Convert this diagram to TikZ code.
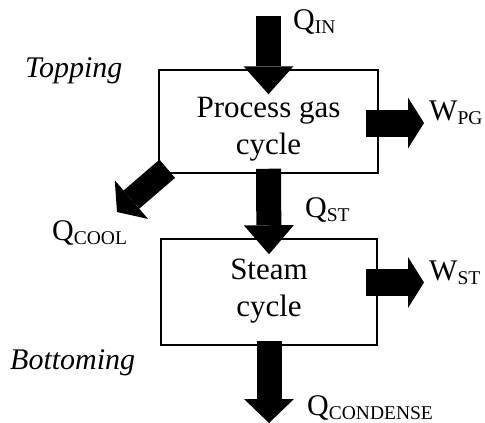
\documentclass[tikz,border=0pt]{standalone}
\usepackage{fontspec}
\setmainfont{Liberation Serif}
\usetikzlibrary{arrows.meta}

\newcommand{\flowlabel}[2]{{\fontsize{30}{30}\selectfont #1}\raisebox{-4pt}{\fontsize{19.5}{19.5}\selectfont #2}}

\begin{document}
\begin{tikzpicture}[x=1pt, y=-1pt,
  cyclebox/.style={draw, line width=1.5pt, inner sep=0pt},
  boxtext/.style={align=center, font=\fontsize{31}{37}\selectfont},
  lbl/.style={anchor=base west, inner sep=0pt},
  sidelbl/.style={anchor=base west, inner sep=0pt, font=\fontsize{30}{30}\selectfont\itshape},
  down/.style={line width=25pt, -{Triangle[length=#1,width=50pt,line width=0pt]}},
  side/.style={line width=27pt, -{Triangle[length=16pt,width=51pt,line width=0pt]}}]
\useasboundingbox (0,0) rectangle (485,423);

\node[cyclebox, minimum width=219pt, minimum height=103pt] (pgc) at (268.5,121.5) {};
\node[cyclebox, minimum width=216pt, minimum height=106pt] (stc) at (269,292) {};
\node[boxtext] (pgctext) at (268.5,129.6) {Process gas\\cycle};
\node[boxtext] (stctext) at (269,291.5) {Steam\\cycle};

\coordinate (qin) at (268.5,16);
\coordinate (qcond) at (269,423);
\coordinate (wpg) at (424,123);
\coordinate (wst) at (424,282.5);
\coordinate (qcool) at (117,212);

\draw[down=28pt] (qin) -- ([yshift=-25pt]pgc.north);
\draw[down=29pt] ([yshift=5pt]pgc.south) -- ([yshift=-16pt]stc.north);
\draw[down=24pt] ([yshift=5pt]stc.south) -- (qcond);
\draw[side] ([shift={(-13,1.5)}]pgc.east) -- (wpg);
\draw[side] ([shift={(-12,-9.5)}]stc.east) -- (wst);
\draw[line width=24pt, -{Triangle[length=19pt,width=51pt,line width=0pt]}] ([shift={(9,-5)}]pgc.south west) -- (qcool);

\node[lbl] (qinlbl) at (293,29) {\flowlabel{Q}{IN}};
\node[lbl] (wpglbl) at (429,120) {\flowlabel{W}{PG}};
\node[lbl] (wstlbl) at (429,280) {\flowlabel{W}{ST}};
\node[lbl] (qstlbl) at (305,217) {\flowlabel{Q}{ST}};
\node[lbl] (qcoollbl) at (52,240) {\flowlabel{Q}{COOL}};
\node[lbl] (qcondlbl) at (307,415) {\flowlabel{Q}{CONDENSE}};
\node[sidelbl] (topping) at (25,77) {Topping};
\node[sidelbl] (bottoming) at (10,369) {Bottoming};
\end{tikzpicture}
\end{document}
